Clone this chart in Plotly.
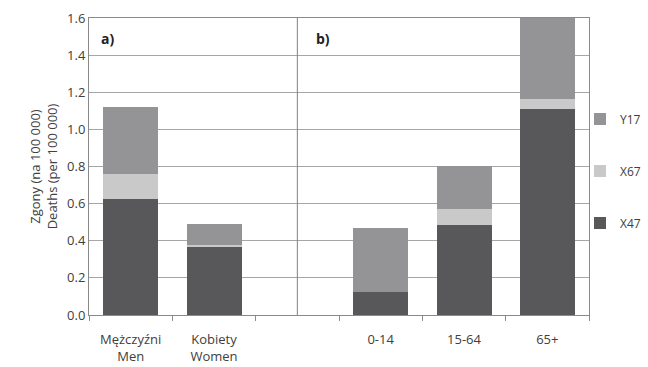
import plotly.graph_objects as go

categories = ["Mężczyźni<br>Men", "Kobiety<br>Women", " ", "0-14", "15-64", "65+"]
x47 = [0.625, 0.368, None, 0.125, 0.485, 1.11]
x67 = [0.135, 0.01, None, 0.0, 0.085, 0.055]
y17 = [0.36, 0.112, None, 0.342, 0.235, 0.436]

series = [("X47", x47, "#58585a", 3), ("X67", x67, "#c9c9c9", 2), ("Y17", y17, "#949496", 1)]

fig = go.Figure()
for name, vals, col, rank in series:
    fig.add_trace(go.Bar(x=categories, y=vals, name=name, marker_color=col,
                         marker_line_width=0, width=0.66, legendgroup=name, legendrank=rank))

fig.add_vline(x=2, line_color="#808080", line_width=1)
fig.add_annotation(x=0.02, y=0.97, xref="paper", yref="paper", text="<b>a)</b>",
                   showarrow=False, xanchor="left", yanchor="top", font=dict(size=14, color="#222"))
fig.add_annotation(x=0.45, y=0.97, xref="paper", yref="paper", text="<b>b)</b>",
                   showarrow=False, xanchor="left", yanchor="top", font=dict(size=14, color="#222"))

fig.update_layout(
    barmode="stack", width=648, height=367,
    margin=dict(l=89, r=59, t=18, b=52, autoexpand=False),
    paper_bgcolor="white", plot_bgcolor="white",
    font=dict(family="Open Sans, DejaVu Sans, sans-serif", size=12, color="#404040"),
    legend=dict(x=0.982, y=0.485, xanchor="left", yanchor="middle", traceorder="grouped",
                tracegroupgap=33, font=dict(size=12), itemwidth=30, bgcolor="rgba(0,0,0,0)"),
    bargap=0.34,
)
fig.update_yaxes(range=[0, 1.6], dtick=0.2, tickformat=".1f", showgrid=True, gridcolor="#a6a6a6",
                 showline=True, linecolor="#8a8a8a", mirror=True, zeroline=False, automargin=False,
                 ticks="outside", ticklen=0, tickfont=dict(size=13),
                 title=dict(text="Zgony (na 100 000)<br>Deaths (per 100 000)", font=dict(size=13), standoff=6))
fig.update_xaxes(showline=True, linecolor="#8a8a8a", mirror=True, ticks="outside", tickson="boundaries",
                 ticklen=5, tickcolor="#8a8a8a", tickfont=dict(size=13), ticklabelstandoff=12,
                 automargin=False)

fig.write_html("out.html")
